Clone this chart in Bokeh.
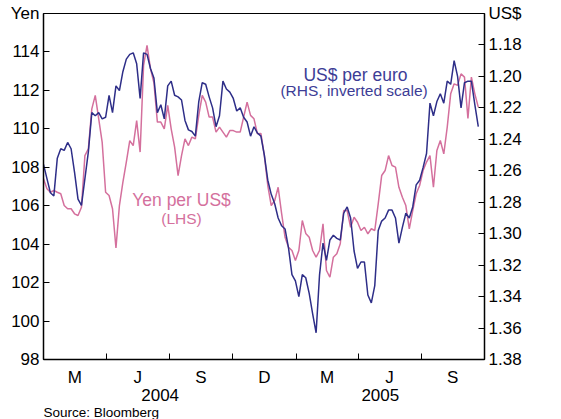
import pandas as pd
from bokeh.plotting import figure
from bokeh.models import (Range1d, LinearAxis, DatetimeAxis, FixedTicker, Label,
                          Title, NumeralTickFormatter)
from bokeh.embed import file_html
from bokeh.resources import INLINE

# ---------------- data ----------------
start_date = "2004-01-01"
n_points = 127
step = "5D"

yen_per_usd = [
    107.40, 106.88, 106.70, 106.79, 106.70, 106.62, 106.01, 105.84, 105.84, 105.58,
    105.49, 105.92, 108.61, 108.96, 111.04, 111.74, 110.52, 109.31, 106.70, 106.53,
    105.84, 103.80, 106.01, 107.22, 108.27, 109.39, 109.13, 110.43, 108.79, 113.30,
    114.34, 113.13, 112.40, 110.35, 110.35, 110.00, 111.22, 110.00, 109.05, 107.57,
    108.61, 109.48, 109.13, 109.57, 109.48, 110.70, 111.74, 111.39, 110.61, 110.61,
    109.83, 110.09, 109.83, 109.57, 109.91, 109.91, 109.83, 109.83, 110.61, 111.39,
    110.70, 110.52, 109.74, 109.76, 108.61, 107.05, 106.01, 106.27, 106.96, 105.60,
    104.36, 103.84, 103.67, 103.15, 103.67, 105.23, 104.56, 104.36, 103.67, 103.32,
    103.67, 105.06, 102.63, 102.28, 103.32, 103.50, 104.02, 105.75, 105.75, 104.88,
    105.40, 105.14, 104.71, 104.88, 104.54, 104.80, 104.71, 106.10, 107.57, 107.83,
    108.61, 108.09, 108.01, 106.96, 106.44, 106.01, 104.80, 105.75, 106.62, 107.05,
    107.83, 108.27, 108.61, 106.96, 108.87, 109.39, 108.70, 110.09, 111.82, 112.34,
    112.26, 112.86, 112.69, 110.54, 112.69, 111.82, 111.13,
]

usd_per_euro = [
    1.256, 1.265, 1.274, 1.276, 1.252, 1.246, 1.247, 1.242, 1.246, 1.261,
    1.278, 1.282, 1.265, 1.248, 1.223, 1.225, 1.223, 1.227, 1.226, 1.212,
    1.223, 1.206, 1.209, 1.197, 1.189, 1.186, 1.185, 1.192, 1.214, 1.185,
    1.186, 1.195, 1.201, 1.223, 1.218, 1.227, 1.206, 1.203, 1.212, 1.213,
    1.215, 1.228, 1.234, 1.235, 1.238, 1.216, 1.204, 1.205, 1.213, 1.220,
    1.232, 1.225, 1.203, 1.208, 1.210, 1.214, 1.222, 1.220, 1.226, 1.229,
    1.238, 1.232, 1.236, 1.238, 1.250, 1.266, 1.275, 1.281, 1.290, 1.295,
    1.297, 1.309, 1.326, 1.330, 1.340, 1.326, 1.328, 1.338, 1.351, 1.363,
    1.326, 1.306, 1.317, 1.304, 1.301, 1.303, 1.304, 1.287, 1.283, 1.290,
    1.311, 1.322, 1.318, 1.318, 1.339, 1.344, 1.333, 1.298, 1.292, 1.290,
    1.285, 1.285, 1.290, 1.306, 1.296, 1.287, 1.290, 1.283, 1.269, 1.266,
    1.258, 1.249, 1.217, 1.225, 1.216, 1.211, 1.217, 1.203, 1.205, 1.190,
    1.200, 1.220, 1.204, 1.203, 1.203, 1.218, 1.232,
]

quarter_starts = ["2004-01-01", "2004-04-01", "2004-07-01", "2004-10-01",
                  "2005-01-01", "2005-04-01", "2005-07-01", "2005-10-01"]
month_labels = ["M", "J", "S", "D", "M", "J", "S"]
year_labels = ["2004", "2005"]
year_label_dates = ["2004-06-18", "2005-05-03"]
yen_ticks = [98, 100, 102, 104, 106, 108, 110, 112, 114]
usd_ticks = [1.18, 1.20, 1.22, 1.24, 1.26, 1.28, 1.30, 1.32, 1.34, 1.36, 1.38]
yen_range = (98, 116)
usd_range = (1.38, 1.16)  # inverted scale
yen_unit = "Yen"
usd_unit = "US$"

# ---------------- styling ----------------
FONT = "Liberation Sans"
PINK = "#d4709d"
BLUE = "#2e2e88"
BLUE_TXT = "#3d3d96"


def ms(d):
    return int(pd.Timestamp(d).value // 10**6)


dates = pd.date_range(start_date, periods=n_points, freq=step)

p = figure(width=561, height=419, x_axis_type="datetime",
           output_backend="svg", toolbar_location=None,
           x_range=Range1d(ms(quarter_starts[0]), ms(quarter_starts[-1])),
           y_range=Range1d(*yen_range),
           min_border_left=43, min_border_right=77,
           min_border_top=13, min_border_bottom=60)
p.extra_y_ranges = {"usd": Range1d(start=usd_range[0], end=usd_range[1])}

p.background_fill_color = "white"
p.border_fill_color = "white"
p.outline_line_color = "black"
p.outline_line_width = 1
p.xgrid.visible = False
p.ygrid.visible = False

p.line(dates, yen_per_usd, line_color=PINK, line_width=1.5)
p.line(dates, usd_per_euro, line_color=BLUE, line_width=1.5, y_range_name="usd")

# left axis (unit name shown at the top of the scale)
ya = p.yaxis[0]
ya.ticker = FixedTicker(ticks=yen_ticks + [yen_range[1]])
ya.major_label_overrides = {yen_range[1]: yen_unit}

# right axis (inverted)
ra = LinearAxis(y_range_name="usd",
                ticker=FixedTicker(ticks=usd_ticks + [usd_range[1]]),
                formatter=NumeralTickFormatter(format="0.00"))
ra.major_label_overrides = {usd_range[1]: usd_unit}
p.add_layout(ra, "right")

for ax in (ya, ra):
    ax.major_tick_in = 6
    ax.major_tick_out = 0
    ax.minor_tick_line_color = None
    ax.axis_line_width = 1.5
    ax.axis_line_color = "black"
    ax.major_tick_line_color = "black"
    ax.major_label_text_font = FONT
    ax.major_label_text_font_size = "17px"
    ax.major_label_text_color = "black"
    ax.major_label_standoff = 4

# month axis
mids = [(ms(a) + ms(b)) // 2 for a, b in zip(quarter_starts[:-1], quarter_starts[1:])]
xa = p.xaxis[0]
xa.ticker = FixedTicker(ticks=mids, minor_ticks=[ms(d) for d in quarter_starts])
xa.major_label_overrides = {m: lab for m, lab in zip(mids, month_labels)}
xa.major_tick_line_color = None
xa.minor_tick_line_color = "black"
xa.minor_tick_in = 6
xa.minor_tick_out = 0
xa.axis_line_width = 1.5
xa.axis_line_color = "black"
xa.major_label_text_font = FONT
xa.major_label_text_font_size = "17px"
xa.major_label_text_color = "black"
xa.major_label_standoff = 2

# year axis
yticks = [ms(d) for d in year_label_dates]
ya2 = DatetimeAxis(ticker=FixedTicker(ticks=yticks, minor_ticks=[]),
                   major_label_overrides={t: lab for t, lab in zip(yticks, year_labels)})
ya2.axis_line_color = None
ya2.major_tick_line_color = None
ya2.minor_tick_line_color = None
ya2.major_tick_in = 0
ya2.major_tick_out = 0
ya2.major_label_standoff = -1
ya2.major_label_text_font = FONT
ya2.major_label_text_font_size = "17px"
ya2.major_label_text_color = "black"
p.add_layout(ya2, "below")

src = Title(text="Source: Bloomberg", align="left", text_font=FONT,
            text_font_size="13.5px", text_font_style="normal",
            text_color="black", standoff=-1, offset=0)
p.add_layout(src, "below")

# series annotations
p.add_layout(Label(x=ms("2005-03-28"), y=112.78, text="US$ per euro",
                   text_align="center", text_baseline="alphabetic",
                   text_font=FONT, text_font_size="17.5px", text_color=BLUE_TXT))
p.add_layout(Label(x=ms("2005-03-26"), y=112.0, text="(RHS, inverted scale)",
                   text_align="center", text_baseline="alphabetic",
                   text_font=FONT, text_font_size="15.5px", text_color=BLUE_TXT))
p.add_layout(Label(x=ms("2004-07-19"), y=106.32, text="Yen per US$",
                   text_align="center", text_baseline="alphabetic",
                   text_font=FONT, text_font_size="17.5px", text_color=PINK))
p.add_layout(Label(x=ms("2004-07-19"), y=105.34, text="(LHS)",
                   text_align="center", text_baseline="alphabetic",
                   text_font=FONT, text_font_size="15.5px", text_color=PINK))

open("out.html", "w").write(file_html(p, INLINE))
